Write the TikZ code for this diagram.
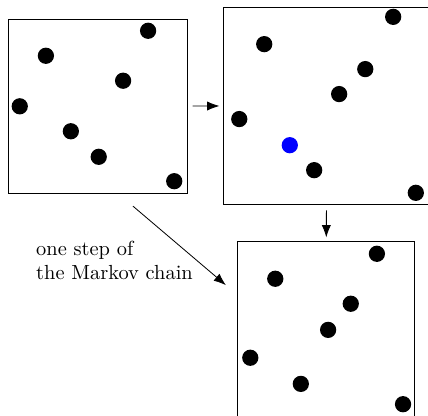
\documentclass[tikz,border=0pt]{standalone}
\usetikzlibrary{arrows.meta}
\begin{document}
\begin{tikzpicture}[x=1cm,y=1cm,
  frame/.style={draw, inner sep=0pt},
  pt/.style={fill=black},
  arr/.style={-{Latex[length=6pt,width=4.5pt]}}]
\useasboundingbox (0,0) rectangle (7.37,-7.15);
\node[frame, minimum width=3.08cm, minimum height=3.00cm] (b1) at (1.68,-1.83) {};
\node[frame, minimum width=3.55cm, minimum height=3.39cm] (b2) at (5.63,-1.82) {};
\node[frame, minimum width=3.05cm, minimum height=3.03cm] (b3) at (5.61,-5.68) {};
% configurations
\foreach \p in {(2.55,-0.53),(0.79,-0.96),(2.12,-1.39),(0.34,-1.83),(1.22,-2.26),(1.70,-2.70),(3.00,-3.12)}
  \fill[pt] \p circle (0.14);
\foreach \p in {(6.77,-0.29),(4.55,-0.76),(6.29,-1.19),(5.84,-1.62),(4.12,-2.05),(5.41,-2.93),(7.16,-3.32)}
  \fill[pt] \p circle (0.14);
\fill[blue] (4.99,-2.50) circle (0.14);
\foreach \p in {(6.49,-4.37),(4.74,-4.80),(6.04,-5.23),(5.65,-5.68),(4.31,-6.16),(5.18,-6.61),(6.94,-6.96)}
  \fill[pt] \p circle (0.14);
\draw[arr, shorten <=0.09cm, shorten >=0.07cm] (b1) -- (b2);
\draw[arr, shorten <=0.10cm, shorten >=0.07cm] (b2) -- (b3);
\coordinate (s) at (2.29,-3.55);
\coordinate (t) at (3.89,-4.91);
\draw[arr] (s) -- (t);
\node[anchor=west, align=left] (lbl) at (0.50,-4.48) {one step of\\the Markov chain};
\end{tikzpicture}
\end{document}
